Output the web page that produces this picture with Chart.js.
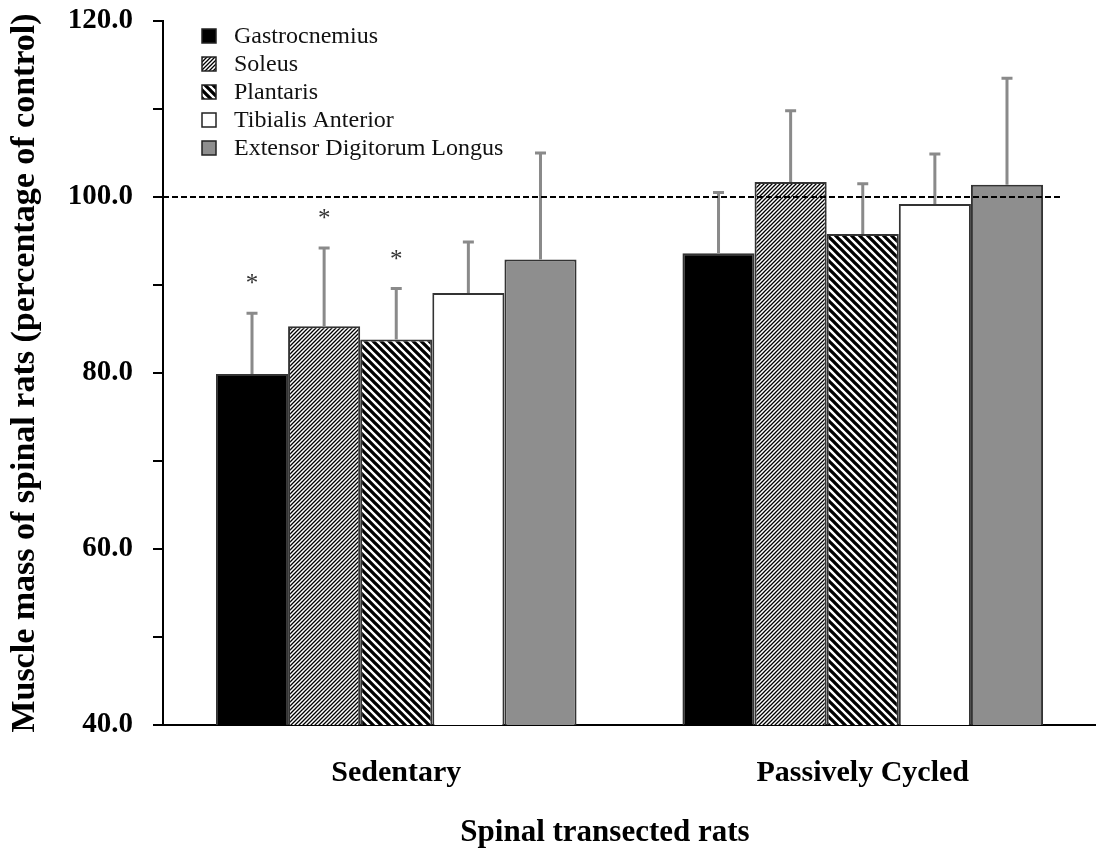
<!DOCTYPE html>
<html>
<head>
<meta charset="utf-8">
<script src="https://cdn.jsdelivr.net/npm/chart.js@4/dist/chart.umd.min.js"></script>
<style>
  html, body { margin: 0; padding: 0; background: #fff; }
  #wrap { width: 1096px; height: 855px; }
</style>
</head>
<body>
<div id="wrap"><canvas id="chart" width="1096" height="855"></canvas></div>
<script>
// values (percentage of control)
const categories = ['Sedentary', 'Passively Cycled']
const muscles = ['Gastrocnemius', 'Soleus', 'Plantaris', 'Tibialis Anterior', 'Extensor Digitorum Longus']

const gastrocnemius = [79.9, 93.6]
const soleus = [85.3, 101.7]
const plantaris = [83.8, 95.8]
const tibialisAnterior = [89.1, 99.2]
const edl = [92.9, 101.4]

// upper error bar length (SD)
const gastrocnemiusErr = [6.9, 6.9]
const soleusErr = [8.9, 8.1]
const plantarisErr = [5.8, 5.7]
const tibialisAnteriorErr = [5.8, 5.7]
const edlErr = [12.1, 12.1]

// significance marks
const gastrocnemiusStar = [true, false]
const soleusStar = [true, false]
const plantarisStar = [true, false]
const tibialisAnteriorStar = [false, false]
const edlStar = [false, false]

const yTicks = [40, 60, 80, 100, 120]
const controlLevel = 100

const SERIF = '"Liberation Serif", "Times New Roman", serif'

// 45 degree hatch tile, lines through the corners so they join across tiles
function hatch(size, width, dir) {
  const c = document.createElement('canvas')
  c.width = size
  c.height = size
  const g = c.getContext('2d')
  g.fillStyle = '#fff'
  g.fillRect(0, 0, size, size)
  g.strokeStyle = '#000'
  g.lineWidth = width
  g.beginPath()
  for (let k = -1; k <= 1; k++) {
    if (dir === '/') {
      g.moveTo(-size + k * size, size * 2)
      g.lineTo(size * 2 + k * size, -size)
    } else {
      g.moveTo(-size + k * size, -size)
      g.lineTo(size * 2 + k * size, size * 2)
    }
  }
  g.stroke()
  return g.createPattern(c, 'repeat')
}

const fills = ['#000000', hatch(4, 1.3, '/'), hatch(8, 3.3, '\\'), '#ffffff', '#8e8e8e']
const values = [gastrocnemius, soleus, plantaris, tibialisAnterior, edl]
const errors = [gastrocnemiusErr, soleusErr, plantarisErr, tibialisAnteriorErr, edlErr]
const stars = [gastrocnemiusStar, soleusStar, plantarisStar, tibialisAnteriorStar, edlStar]

const extras = {
  id: 'extras',
  afterDatasetsDraw(chart) {
    const ctx = chart.ctx
    const y = chart.scales.y
    const area = chart.chartArea
    ctx.save()
    // error bars
    chart.data.datasets.forEach((ds, i) => {
      chart.getDatasetMeta(i).data.forEach((bar, j) => {
        const top = y.getPixelForValue(ds.data[j] + errors[i][j])
        ctx.strokeStyle = '#8a8a8a'
        ctx.lineWidth = 3
        ctx.beginPath()
        ctx.moveTo(bar.x, bar.y)
        ctx.lineTo(bar.x, top)
        ctx.moveTo(bar.x - 5.5, top)
        ctx.lineTo(bar.x + 5.5, top)
        ctx.stroke()
        if (stars[i][j]) {
          ctx.fillStyle = '#333'
          ctx.font = '25px ' + SERIF
          ctx.textAlign = 'center'
          ctx.textBaseline = 'alphabetic'
          ctx.fillText('*', bar.x, top - 22)
        }
      })
    })
    // control level
    const cy = y.getPixelForValue(controlLevel)
    ctx.strokeStyle = '#000'
    ctx.lineWidth = 2
    ctx.setLineDash([6, 3])
    ctx.beginPath()
    ctx.moveTo(area.left, cy)
    ctx.lineTo(area.right - 36, cy)
    ctx.stroke()
    ctx.restore()
  },
  afterDraw(chart) {
    const ctx = chart.ctx
    ctx.save()
    // legend
    ctx.font = '24px ' + SERIF
    ctx.textAlign = 'left'
    ctx.textBaseline = 'middle'
    muscles.forEach((name, i) => {
      const cy = 36 + i * 28
      ctx.fillStyle = fills[i]
      ctx.fillRect(202, cy - 7, 14, 14)
      ctx.strokeStyle = '#222'
      ctx.lineWidth = 1.5
      ctx.strokeRect(202, cy - 7, 14, 14)
      ctx.fillStyle = '#111'
      ctx.fillText(name, 234, cy + 1)
    })
    // x axis title
    ctx.font = 'bold 31px ' + SERIF
    ctx.textAlign = 'center'
    ctx.fillStyle = '#000'
    ctx.fillText('Spinal transected rats', 605, 833)
    ctx.restore()
  }
}

new Chart(document.getElementById('chart'), {
  type: 'bar',
  data: {
    labels: categories,
    datasets: muscles.map((name, i) => ({
      label: name,
      data: values[i],
      backgroundColor: fills[i],
      borderColor: '#333',
      borderWidth: 2,
      borderSkipped: 'bottom',
      categoryPercentage: 0.773,
      barPercentage: 1.0
    }))
  },
  options: {
    responsive: false,
    animation: false,
    layout: { padding: { top: 21, right: 0, left: 0, bottom: 0 } },
    plugins: {
      legend: { display: false },
      tooltip: { enabled: false }
    },
    scales: {
      x: {
        grid: { display: false, drawTicks: false },
        border: { color: '#000', width: 2 },
        ticks: {
          color: '#000',
          padding: 30,
          font: { family: SERIF, size: 30, weight: 'bold' }
        },
        afterFit: s => { s.height = 130 }
      },
      y: {
        min: 40,
        max: 120,
        grid: { drawOnChartArea: false, color: '#000', lineWidth: 2, tickLength: 10, tickColor: '#000' },
        border: { color: '#000', width: 2 },
        ticks: {
          stepSize: 10,
          padding: 20,
          color: '#000',
          font: { family: SERIF, size: 29, weight: 'bold' },
          callback: v => yTicks.includes(v) ? v.toFixed(1) : ''
        },
        title: {
          display: true,
          text: 'Muscle mass of spinal rats (percentage of control)',
          color: '#000',
          font: { family: SERIF, size: 34, weight: 'bold' },
          padding: { top: 5, bottom: 0 }
        },
        afterFit: s => {
          s.width = 163
          s.paddingTop = 0
          s.paddingBottom = 0
        }
      }
    }
  },
  plugins: [extras]
})
</script>
</body>
</html>
